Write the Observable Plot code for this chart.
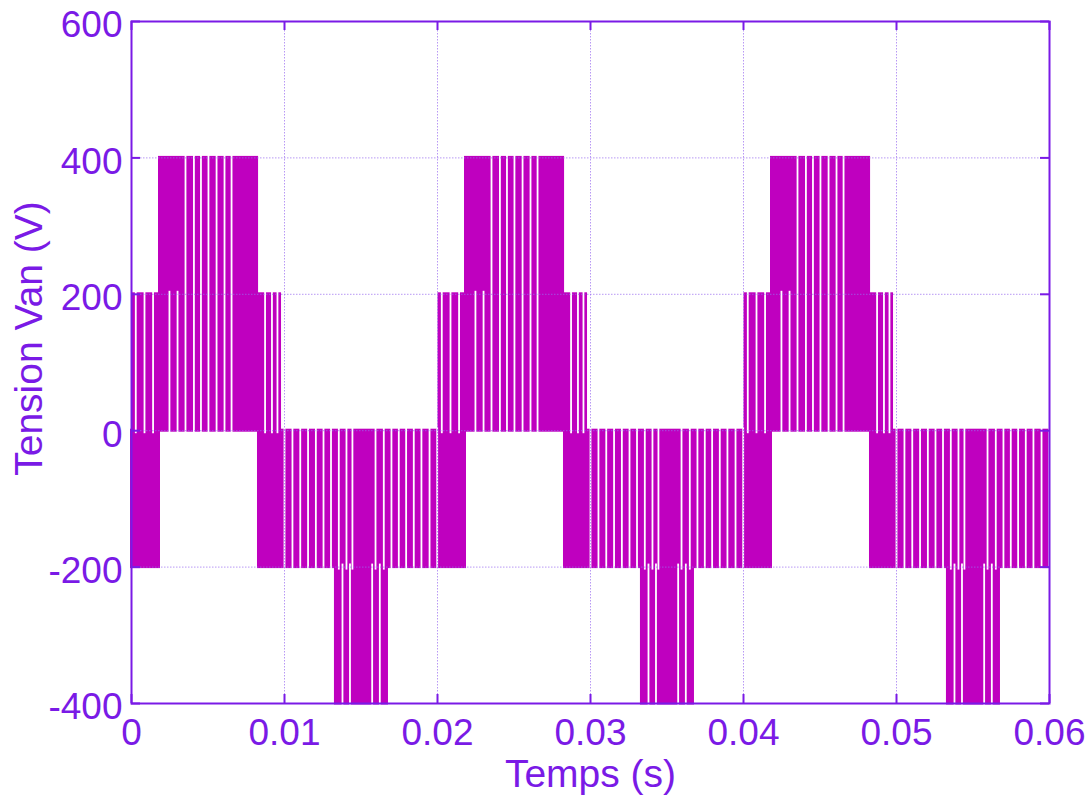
<!DOCTYPE html>
<html>
<head>
<meta charset="utf-8">
<script src="https://cdn.jsdelivr.net/npm/d3@7"></script>
<script src="https://cdn.jsdelivr.net/npm/@observablehq/plot@0.6"></script>
<style>
  html, body { margin: 0; padding: 0; background: #ffffff; }
</style>
</head>
<body>
<div id="chart"></div>
<script>
// ---- Data (times in ms) ----
// start of each fundamental cycle
const cycleStartsMs = [0, 20, 40];

// voltage bands covered by the PWM pulses within one cycle
const segStartMs = [0, 0.1, 1.83, 8.30, 13.33];
const segEndMs   = [1.83, 9.74, 8.24, 20, 16.73];
const segLowV    = [-200, 0, 200, -200, -400];
const segHighV   = [0, 200, 400, 0, -200];

// instants (ms within a cycle) where the pulse train leaves a visible white gap
const gaps0to200 = [0.28, 0.85, 1.41, 2.48, 3.01, 8.73, 9.18, 9.54];
const gaps0to400 = [3.53, 4.08, 4.54, 5.03, 5.56, 6.08, 6.54];
const gapsM200to0 = [10.0, 10.52, 11.03, 11.54, 12.05, 12.55, 13.04, 13.55, 14.05, 14.44,
                     15.95, 16.49, 16.99, 17.47, 17.95, 18.45, 18.95, 19.48, 19.98];
const gapsM400toM200 = [13.79, 14.28, 15.73, 16.23];

// axes
const xTicks = [0, 0.01, 0.02, 0.03, 0.04, 0.05, 0.06];
const xTickLabels = ["0", "0.01", "0.02", "0.03", "0.04", "0.05", "0.06"];
const yTicks = [-400, -200, 0, 200, 400, 600];
const yTickLabels = ["-400", "-200", "0", "200", "400", "600"];
const xGrid = [0.01, 0.02, 0.03, 0.04, 0.05];
const yGrid = [-200, 0, 200, 400];
const xLabel = "Temps (s)";
const yLabel = "Tension Van (V)";

// ---- Build tables ----
const segments = [];
for (const c of cycleStartsMs) {
  segStartMs.forEach((s, i) => {
    segments.push({x1: (c + s) / 1000, x2: (c + segEndMs[i]) / 1000, y1: segLowV[i], y2: segHighV[i]});
  });
}
const gaps = [];
const gapGroups = [[gaps0to200, 0, 200], [gaps0to400, 0, 400], [gapsM200to0, -200, 0], [gapsM400toM200, -400, -200]];
for (const c of cycleStartsMs) {
  for (const [list, lo, hi] of gapGroups) {
    for (const t of list) gaps.push({t: (c + t) / 1000, lo, hi});
  }
}

// ---- Styling / layout ----
const W = 1092, H = 798;
const mL = 131, mR = 43, mT = 21, mB = 95;
const fw = W - mL - mR, fh = H - mT - mB;
const tickLen = 9;
const magenta = "#bf00bf";
const axisColor = "#7a1ae6";
const gridColor = "#9a6cf0";
const font = "'Liberation Sans', Arial, Helvetica, sans-serif";

const chart = Plot.plot({
  width: W,
  height: H,
  marginLeft: mL,
  marginRight: mR,
  marginTop: mT,
  marginBottom: mB,
  style: {fontFamily: font, fontSize: "37px", background: "#ffffff", color: axisColor},
  x: {domain: [0, 0.06]},
  y: {domain: [-400, 600]},
  marks: [
    Plot.rect(segments, {x1: "x1", x2: "x2", y1: "y1", y2: "y2", fill: magenta,
      insetTop: -1.5, insetBottom: -1.5, insetLeft: -1, insetRight: -1}),
    Plot.ruleX(gaps, {x: "t", y1: "lo", y2: "hi", stroke: "#ffffff", strokeWidth: 1.8,
      insetTop: 3, insetBottom: 3}),
    Plot.ruleX(xGrid, {x: d => d, stroke: gridColor, strokeOpacity: 0.7, strokeWidth: 1, strokeDasharray: "1.5,1.5"}),
    Plot.ruleY(yGrid, {y: d => d, stroke: gridColor, strokeOpacity: 0.7, strokeWidth: 1, strokeDasharray: "1.5,1.5"}),
    Plot.frame({stroke: axisColor, strokeWidth: 2}),
    // inward ticks on all four sides
    Plot.ruleX(xTicks, {x: d => d, stroke: axisColor, strokeWidth: 2, insetTop: fh - tickLen}),
    Plot.ruleX(xTicks, {x: d => d, stroke: axisColor, strokeWidth: 2, insetBottom: fh - tickLen}),
    Plot.ruleY(yTicks, {y: d => d, stroke: axisColor, strokeWidth: 2, insetRight: fw - tickLen}),
    Plot.ruleY(yTicks, {y: d => d, stroke: axisColor, strokeWidth: 2, insetLeft: fw - tickLen}),
    Plot.axisX(xTicks, {anchor: "bottom", tickSize: 0, tickPadding: 15, label: null,
      tickFormat: d => xTickLabels[xTicks.indexOf(d)], fontSize: 37, fill: axisColor}),
    Plot.axisY(yTicks, {anchor: "left", tickSize: 0, tickPadding: 9, label: null, dy: 4,
      tickFormat: d => yTickLabels[yTicks.indexOf(d)], fontSize: 37, fill: axisColor}),
    Plot.text([xLabel], {frameAnchor: "bottom", text: d => d, lineAnchor: "bottom",
      textAnchor: "middle", dy: 83, fontSize: 39, fill: axisColor}),
    Plot.text([yLabel], {frameAnchor: "left", text: d => d, rotate: -90, lineAnchor: "bottom",
      textAnchor: "middle", dx: -(mL - 41), dy: -24, fontSize: 39, fill: axisColor})
  ]
});
document.getElementById("chart").appendChild(chart);
</script>
</body>
</html>
